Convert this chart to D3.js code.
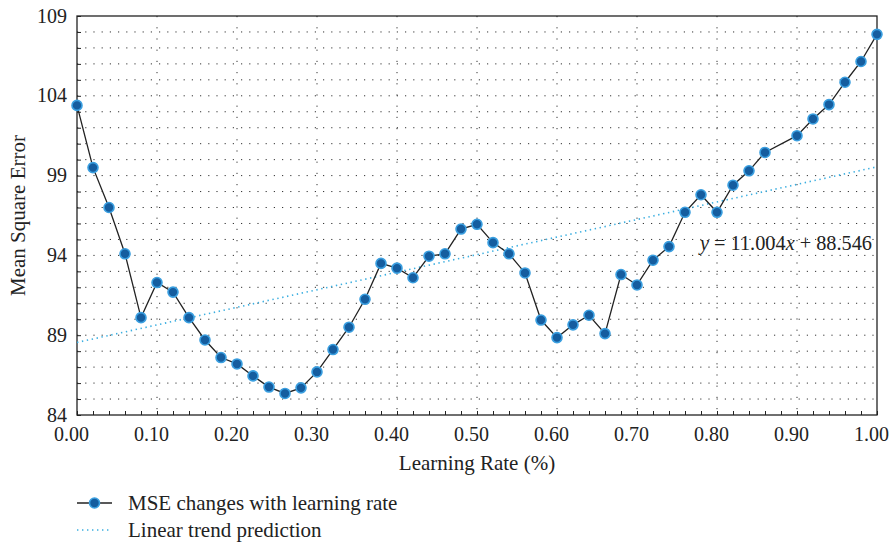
<!DOCTYPE html>
<html>
<head>
<meta charset="utf-8">
<script src="https://d3js.org/d3.v7.min.js"></script>
<style>
body { margin: 0; background: #fff; }
svg { display: block; font-family: 'Liberation Serif', 'DejaVu Serif', serif; }
.axis text { font-size: 20px; fill: #222; font-family: 'Liberation Serif', serif; }
.axis path, .axis line { stroke: #222; }
.grid line { stroke: #333; stroke-width: 1; }
</style>
</head>
<body>
<svg id="chart" width="892" height="546"></svg>
<script>
// learning rate (x) and mean square error (y)
const learningRate = [0.00, 0.02, 0.04, 0.06, 0.08, 0.10, 0.12, 0.14, 0.16, 0.18,
                      0.20, 0.22, 0.24, 0.26, 0.28, 0.30, 0.32, 0.34, 0.36, 0.38,
                      0.40, 0.42, 0.44, 0.46, 0.48, 0.50, 0.52, 0.54, 0.56, 0.58,
                      0.60, 0.62, 0.64, 0.66, 0.68, 0.70, 0.72, 0.74, 0.76, 0.78,
                      0.80, 0.82, 0.84, 0.86, 0.90, 0.92, 0.94, 0.96, 0.98, 1.00];
const mse = [103.4, 99.5, 97.0, 94.1, 90.1, 92.3, 91.7, 90.1, 88.7, 87.6,
             87.2, 86.45, 85.75, 85.35, 85.7, 86.7, 88.1, 89.5, 91.25, 93.5,
             93.2, 92.6, 93.95, 94.1, 95.65, 95.95, 94.8, 94.1, 92.9, 89.95,
             88.85, 89.65, 90.25, 89.1, 92.8, 92.15, 93.7, 94.55, 96.7, 97.8,
             96.7, 98.4, 99.3, 100.45, 101.5, 102.55, 103.45, 104.85, 106.15, 107.85];

// trend line as printed on the chart
const trendSlope = 11.004;
const trendIntercept = 88.546;
const trendX = [0, 1];

const xTicks = [0, 0.1, 0.2, 0.3, 0.4, 0.5, 0.6, 0.7, 0.8, 0.9, 1.0];
const yTicks = [84, 89, 94, 99, 104, 109];
const legendLabels = ["MSE changes with learning rate", "Linear trend prediction"];

const margin = {top: 16, right: 15, bottom: 131, left: 77};
const W = 892, H = 546;
const width = W - margin.left - margin.right;
const height = H - margin.top - margin.bottom;

const svg = d3.select("#chart");
const g = svg.append("g").attr("transform", `translate(${margin.left},${margin.top})`);

const x = d3.scaleLinear().domain([0, 1]).range([0, width]);
const y = d3.scaleLinear().domain([84, 109]).range([height, 0]);

const markerFill = "#155d9f", markerEdge = "#3a9fe0", trendColor = "#3aaee0";

// dotted grid
const grid = g.append("g").attr("class", "grid");
grid.selectAll(".hg").data(d3.range(85, 109))
  .enter().append("line")
  .attr("x1", 0).attr("x2", width)
  .attr("y1", d => y(d)).attr("y2", d => y(d))
  .attr("stroke-dasharray", "1.2,7");
grid.selectAll(".vg").data(xTicks.slice(1, -1))
  .enter().append("line")
  .attr("x1", d => x(d)).attr("x2", d => x(d))
  .attr("y1", 0).attr("y2", height)
  .attr("stroke-dasharray", "1.2,10");

// minor inward ticks
g.append("g").attr("class", "axis")
  .attr("transform", `translate(0,${height})`)
  .call(d3.axisBottom(x).tickValues(d3.range(0, 51).map(i => i / 50)).tickSizeInner(-4).tickSizeOuter(0).tickFormat(""))
  .call(a => a.select(".domain").remove());
g.append("g").attr("class", "axis")
  .call(d3.axisLeft(y).tickValues(d3.range(84, 110)).tickSizeInner(-4).tickSizeOuter(0).tickFormat(""))
  .call(a => a.select(".domain").remove());

// labels
g.append("g").attr("class", "axis")
  .attr("transform", `translate(0,${height})`)
  .call(d3.axisBottom(x).tickValues(xTicks).tickSize(0).tickPadding(12).tickFormat(d3.format(".2f")))
  .call(a => a.select(".domain").remove())
  .selectAll("text").attr("dx", -6);
g.append("g").attr("class", "axis")
  .call(d3.axisLeft(y).tickValues(yTicks).tickSize(0).tickPadding(10))
  .call(a => a.select(".domain").remove())
  .selectAll("text").attr("dy", "0.3em");

// frame
g.append("rect").attr("width", width).attr("height", height)
  .attr("fill", "none").attr("stroke", "#222").attr("stroke-width", 1.3);

// trend line
g.append("path")
  .datum(trendX)
  .attr("fill", "none").attr("stroke", trendColor).attr("stroke-width", 1.6)
  .attr("stroke-dasharray", "1.4,3.6")
  .attr("d", d3.line().x(d => x(d)).y(d => y(trendSlope * d + trendIntercept)));

// data line + markers
const pts = learningRate.map((v, i) => [v, mse[i]]);
g.append("path")
  .datum(pts)
  .attr("fill", "none").attr("stroke", "#222").attr("stroke-width", 1.3)
  .attr("d", d3.line().x(d => x(d[0])).y(d => y(d[1])));
g.selectAll(".pt").data(pts).enter().append("circle")
  .attr("cx", d => x(d[0])).attr("cy", d => y(d[1]))
  .attr("r", 5).attr("fill", markerFill)
  .attr("stroke", markerEdge).attr("stroke-width", 1.6);

// equation
g.append("text")
  .attr("x", x(1) - 5).attr("y", 250 - margin.top)
  .attr("text-anchor", "end").attr("font-size", 20.3).attr("fill", "#222")
  .html('<tspan font-style="italic">y</tspan> = 11.004<tspan font-style="italic">x</tspan> + 88.546');

// axis titles
svg.append("text")
  .attr("x", margin.left + width / 2).attr("y", 470)
  .attr("text-anchor", "middle").attr("font-size", 21).attr("fill", "#222")
  .text("Learning Rate (%)");
svg.append("text")
  .attr("transform", `translate(25,${margin.top + height / 2}) rotate(-90)`)
  .attr("text-anchor", "middle").attr("font-size", 21).attr("fill", "#222")
  .text("Mean Square Error");

// legend
const lg = svg.append("g").attr("transform", "translate(77,503)");
lg.append("line").attr("x1", 0).attr("x2", 35).attr("y1", 0).attr("y2", 0)
  .attr("stroke", "#222").attr("stroke-width", 1.3);
lg.append("circle").attr("cx", 17.5).attr("cy", 0).attr("r", 5)
  .attr("fill", markerFill).attr("stroke", markerEdge).attr("stroke-width", 1.6);
lg.append("line").attr("x1", 0).attr("x2", 35).attr("y1", 27).attr("y2", 27)
  .attr("stroke", trendColor).attr("stroke-width", 1.6).attr("stroke-dasharray", "1.4,3.6");
lg.selectAll(".lt").data(legendLabels).enter().append("text")
  .attr("x", 51).attr("y", (d, i) => i * 27 + 7)
  .attr("font-size", 21).attr("fill", "#222")
  .text(d => d);
</script>
</body>
</html>
